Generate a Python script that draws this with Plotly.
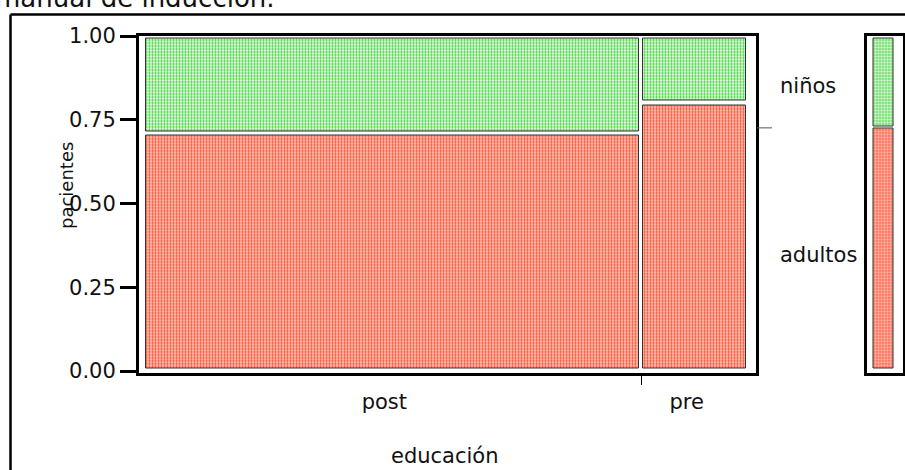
import plotly.graph_objects as go

# Mosaic data: share of patients in each education group, and share of adults inside each group
categories = ["post", "pre"]
col_share = [0.825, 0.175]
adult_share = [0.71, 0.80]
group_names = ["adultos", "niños"]
y_tick_vals = [0.0, 0.25, 0.5, 0.75, 1.0]
y_tick_text = ["0.00", "0.25", "0.50", "0.75", "1.00"]

W, H = 905, 470
FONT = "DejaVu Sans"


def px(x):
    return x / W


def py(y):
    return 1 - y / H


RED_FILL = dict(shape=".", bgcolor="#ffcfc3", fgcolor="#ff4a2c", size=3, solidity=0.45)
GREEN_FILL = dict(shape=".", bgcolor="#e8fbe4", fgcolor="#22cc22", size=3, solidity=0.38)
OUTLINE = dict(color="#333333", width=1)

# spacing between tiles (data units)
gx = 0.004
pad_lo, pad_hi, gy = 0.008, 0.006, 0.006

lefts = [sum(col_share[:i]) for i in range(len(col_share))]
rights = [l + s for l, s in zip(lefts, col_share)]
x0s = [l + (gx if i > 0 else 0) for i, l in enumerate(lefts)]
x1s = [r - (gx if i < len(rights) - 1 else 0) for i, r in enumerate(rights)]
centers = [(a + b) / 2 for a, b in zip(x0s, x1s)]
widths = [b - a for a, b in zip(x0s, x1s)]
overall_adult = sum(s * a for s, a in zip(col_share, adult_share))

fig = go.Figure()

# main mosaic
fig.add_trace(go.Bar(
    x=centers, width=widths, base=[pad_lo] * len(centers),
    y=[a - gy - pad_lo for a in adult_share],
    marker=dict(color="#fb8e78", pattern=RED_FILL, line=OUTLINE),
    name=group_names[0], xaxis="x", yaxis="y", hoverinfo="skip",
))
fig.add_trace(go.Bar(
    x=centers, width=widths, base=[a + gy for a in adult_share],
    y=[1 - pad_hi - (a + gy) for a in adult_share],
    marker=dict(color="#a6eca0", pattern=GREEN_FILL, line=OUTLINE),
    name=group_names[1], xaxis="x", yaxis="y", hoverinfo="skip",
))

# marginal column for all patients
fig.add_trace(go.Bar(
    x=[0.5], width=[1.0], base=[pad_lo], y=[overall_adult - gy / 2 - pad_lo],
    marker=dict(color="#fb8e78", pattern=RED_FILL, line=OUTLINE),
    xaxis="x2", yaxis="y2", hoverinfo="skip", showlegend=False,
))
fig.add_trace(go.Bar(
    x=[0.5], width=[1.0], base=[overall_adult + gy / 2],
    y=[1 - pad_hi - (overall_adult + gy / 2)],
    marker=dict(color="#a6eca0", pattern=GREEN_FILL, line=OUTLINE),
    xaxis="x2", yaxis="y2", hoverinfo="skip", showlegend=False,
))

frame = dict(showline=True, mirror=True, linewidth=3, linecolor="black",
             showgrid=False, zeroline=False, fixedrange=True, automargin=False)

fig.update_layout(
    template="none",
    width=W, height=H,
    margin=dict(l=0, r=0, t=0, b=0, pad=0, autoexpand=False),
    paper_bgcolor="white", plot_bgcolor="white",
    barmode="overlay", bargap=0, showlegend=False,
    font=dict(family=FONT, size=21, color="#111111"),
    xaxis=dict(
        domain=[px(139), px(755.5)], range=[-7 / 600, 1 + 9.5 / 600],
        tickvals=centers, ticktext=categories, ticks="", ticklen=0,
        ticklabelstandoff=8, ticklabelshift=-8,
        minor=dict(tickvals=[rights[0]], ticks="outside", ticklen=9,
                   tickwidth=1, tickcolor="black"),
        anchor="y", **frame,
    ),
    yaxis=dict(
        domain=[py(372.5), py(35.5)], range=[-1.5 / 336, 1 + 0.5 / 336],
        tickvals=y_tick_vals, ticktext=y_tick_text,
        ticks="outside", ticklen=16, tickwidth=2.5, tickcolor="black",
        anchor="x", **frame,
    ),
    xaxis2=dict(
        domain=[px(866.5), px(902.5)], range=[-6.5 / 20, 1 + 9.5 / 20],
        showticklabels=False, ticks="", anchor="y2", **frame,
    ),
    yaxis2=dict(
        domain=[py(372.5), py(35.5)], range=[-1.5 / 336, 1 + 0.5 / 336],
        showticklabels=False, ticks="", anchor="x2", **frame,
    ),
)

# outer window frame and marginal divider
fig.add_shape(type="line", xref="paper", yref="paper",
              x0=px(10.5), x1=px(10.5), y0=py(480), y1=py(14.5),
              line=dict(color="black", width=2.5))
fig.add_shape(type="line", xref="paper", yref="paper",
              x0=px(10.5), x1=px(915), y0=py(14.5), y1=py(14.5),
              line=dict(color="black", width=2.5))
fig.add_shape(type="line", xref="paper", yref="y",
              x0=px(757), x1=px(772), y0=overall_adult, y1=overall_adult,
              line=dict(color="#555555", width=1))

# text
fig.add_annotation(text="manual de inducción.", xref="paper", yref="paper",
                   x=px(277), y=py(15), xanchor="right", yanchor="bottom",
                   showarrow=False, font=dict(size=26))
fig.add_annotation(text="pacientes", xref="paper", yref="paper",
                   x=px(66), y=py(186), textangle=-90,
                   xanchor="center", yanchor="middle",
                   showarrow=False, font=dict(size=18))
fig.add_annotation(text="educación", xref="paper", yref="paper",
                   x=px(445), y=py(456), xanchor="center", yanchor="middle",
                   showarrow=False)
fig.add_annotation(text=group_names[1], xref="paper", yref="paper",
                   x=px(778), y=py(86), xanchor="left", yanchor="middle",
                   showarrow=False)
fig.add_annotation(text=group_names[0], xref="paper", yref="paper",
                   x=px(778), y=py(255), xanchor="left", yanchor="middle",
                   showarrow=False)

fig.write_html("out.html")
